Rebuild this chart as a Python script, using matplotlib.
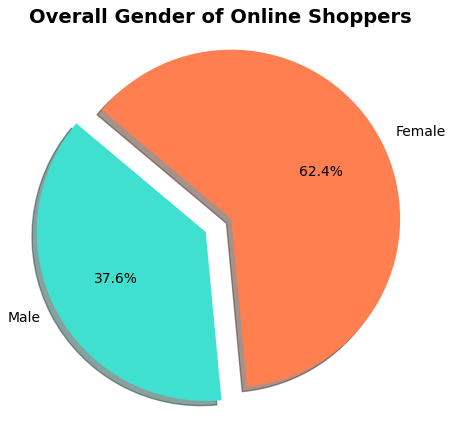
import matplotlib
matplotlib.use('Agg')
import matplotlib.pyplot as plt

# data
genders = ['Male', 'Female']
shares = [37.6, 62.4]
colors = ['#40E0D0', '#FF7F50']
explode = [0.1, 0.07]

fig = plt.figure(figsize=(4.58, 4.28), dpi=100)
ax = fig.add_axes([0.0206, -0.0172, 0.9225, 0.987])
ax.pie(shares, labels=genders, colors=colors, explode=explode,
       autopct='%1.1f%%', shadow=True, startangle=140)
ax.set_xlim(-1.25, 1.25)
ax.set_ylim(-1.25, 1.25)
ax.set_aspect('equal')
fig.text(0.482, 0.958, 'Overall Gender of Online Shoppers', fontsize=14,
         fontweight='bold', ha='center', va='center')
fig.savefig('out.png')
